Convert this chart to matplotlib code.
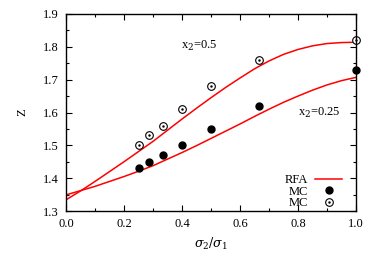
import numpy as np
import matplotlib
matplotlib.use("Agg")
import matplotlib.pyplot as plt
from matplotlib.ticker import MultipleLocator

# RFA curves
x_rfa = [0.00, 0.05, 0.10, 0.15, 0.20, 0.25, 0.30, 0.35, 0.40, 0.45, 0.50,
         0.55, 0.60, 0.65, 0.70, 0.75, 0.80, 0.85, 0.90, 0.95, 1.00]
z_rfa_05 = [1.334, 1.361, 1.390, 1.420, 1.450, 1.481, 1.512, 1.546, 1.580, 1.613, 1.645,
            1.676, 1.705, 1.733, 1.757, 1.777, 1.792, 1.803, 1.810, 1.813, 1.814]
z_rfa_025 = [1.349, 1.362, 1.375, 1.390, 1.405, 1.421, 1.438, 1.458, 1.478, 1.499, 1.521,
             1.543, 1.565, 1.588, 1.610, 1.631, 1.650, 1.668, 1.684, 1.697, 1.707]

# MC points
x_mc = [0.25, 0.2857, 0.3333, 0.4, 0.5, 0.6667, 1.0]
z_mc_025 = [1.43, 1.45, 1.47, 1.50, 1.55, 1.62, 1.73]
z_mc_05 = [1.50, 1.53, 1.56, 1.61, 1.68, 1.76, 1.82]

plt.rcParams["font.family"] = ["Liberation Serif", "DejaVu Serif"]
plt.rcParams["mathtext.fontset"] = "dejavuserif"
plt.rcParams["font.size"] = 9

fig = plt.figure(figsize=(3.74, 2.62), dpi=100)
ax = fig.add_axes([66/374, 51/262, 290/374, 197/262])

line, = ax.plot(x_rfa, z_rfa_05, color="red", lw=1.1, label="RFA")
ax.plot(x_rfa, z_rfa_025, color="red", lw=1.1)
filled, = ax.plot(x_mc, z_mc_025, "o", color="black", ms=5, ls="none", label="MC")
ax.plot(x_mc, z_mc_05, "o", mfc="white", mec="black", mew=0.8, ms=5.5, ls="none", clip_on=False)
ax.plot(x_mc, z_mc_05, ".", color="black", ms=1.5, ls="none", clip_on=False)
filled.set_clip_on(False)
open_h = ax.plot([], [], "o", mfc="white", mec="black", mew=0.8, ms=5.5, ls="none")[0]
dot_h = ax.plot([], [], ".", color="black", ms=1.5, ls="none")[0]

ax.text(0.46, 1.803, r"x$_2$=0.5", ha="center", va="center")
ax.text(0.872, 1.60, r"x$_2$=0.25", ha="center", va="center")

ax.legend([line, filled, (open_h, dot_h)], ["RFA", "MC", "MC"],
          loc="lower right", bbox_to_anchor=(1 - 5/290, -0.035),
          markerfirst=False, frameon=False,
          handlelength=2.2, handletextpad=0.5, labelspacing=-0.05,
          borderaxespad=0.3, fontsize=9)

ax.set_xlim(0, 1)
ax.set_ylim(1.3, 1.9)
ax.xaxis.set_major_locator(MultipleLocator(0.2))
ax.xaxis.set_minor_locator(MultipleLocator(0.1))
ax.yaxis.set_major_locator(MultipleLocator(0.1))
ax.yaxis.set_minor_locator(MultipleLocator(0.05))
ax.xaxis.set_major_formatter(plt.FormatStrFormatter("%.1f"))
ax.yaxis.set_major_formatter(plt.FormatStrFormatter("%.1f"))
ax.tick_params(which="both", direction="in", top=True, right=True, width=0.8)
ax.tick_params(which="major", length=4, pad=5)
ax.tick_params(which="minor", length=2)
for s in ax.spines.values():
    s.set_linewidth(1.0)

ax.set_xlabel(r"$\sigma_2/\sigma_1$", labelpad=4)
ax.set_ylabel("Z", labelpad=11)

fig.savefig("out.png", dpi=100)
